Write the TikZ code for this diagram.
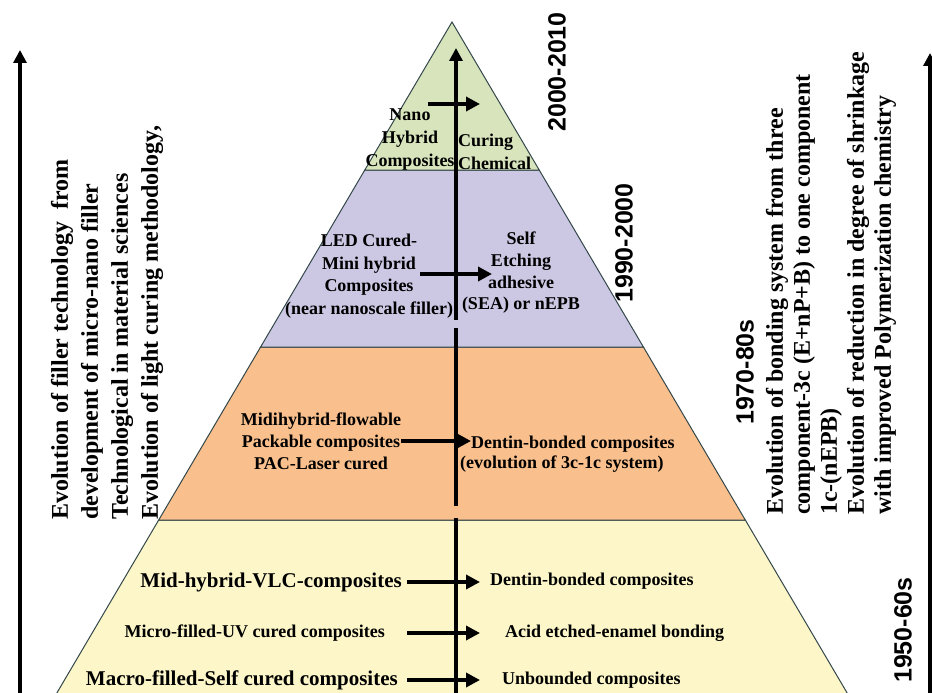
\documentclass[tikz,border=0pt]{standalone}
\usepackage{fontspec}
\setmainfont{Liberation Serif}
\newfontfamily\erafont{Liberation Sans}
\usepackage{xcolor}
\usepackage{tikz}
\usetikzlibrary{positioning,arrows.meta,calc}
\definecolor{nanogreen}{HTML}{D7E4BC}
\definecolor{ledviolet}{HTML}{CCC8E4}
\definecolor{midorange}{HTML}{F9BF8C}
\definecolor{macroyellow}{HTML}{FCF6C8}
\definecolor{rim}{HTML}{34474A}
\tikzset{
  band/.style={draw=rim, line width=1pt},
  lbl/.style={font=\bfseries\fontsize{18}{22}\selectfont, inner sep=0pt, align=center},
  lblbig/.style={lbl, font=\bfseries\fontsize{21}{22}\selectfont},
  side/.style={rotate=90, anchor=west, align=left, inner sep=0pt},
  era/.style={rotate=90, inner sep=0pt, font=\erafont\bfseries\fontsize{25}{25}\selectfont},
  mainarrow/.style={line width=4.5pt, -{Triangle[length=13pt,width=13pt]}},
  harrow/.style={line width=4pt, -{Triangle[length=14pt,width=14pt]}}
}

\begin{document}
\begin{tikzpicture}[x=1pt,y=-1pt]
\useasboundingbox (0,0) rectangle (932,693);
\fill[white] (0,0) rectangle (932,693);

\draw[band,fill=macroyellow] (158.7,520) -- (745.3,520) -- (850.1,698) -- (53.9,698) -- cycle;
\draw[band,fill=midorange] (260.6,347) -- (643.4,347) -- (745.3,520) -- (158.7,520) -- cycle;
\draw[band,fill=ledviolet] (364.8,170) -- (539.2,170) -- (643.4,347) -- (260.6,347) -- cycle;
\draw[band,fill=nanogreen] (452,22) -- (539.2,170) -- (364.8,170) -- cycle;

\coordinate (base) at (456,700);
\coordinate (cut1) at (456,518);
\coordinate (cut2) at (456,506);
\coordinate (cut3) at (456,328);
\coordinate (cut4) at (456,320);
\coordinate (apex) at (456,48);
\draw[line width=4.5pt] (base) -- (cut1);
\draw[line width=4.5pt] (cut2) -- (cut3);
\draw[mainarrow] (cut4) -- (apex);

\coordinate (lbase) at (20,700);
\coordinate (ltop) at (20,50);
\draw[mainarrow] (lbase) -- (ltop);
\coordinate (rbase) at (930,700);
\coordinate (rtop) at (930,53);
\draw[mainarrow] (rbase) -- (rtop);

% top band
\node[lbl, font=\bfseries\fontsize{18}{23}\selectfont] (nano) at (410,140) {Nano\\Hybrid\\Composites};
\node[lbl, font=\bfseries\fontsize{18}{23}\selectfont, align=left, anchor=west] (chem) at (458,151.5) {Curing\\Chemical};
\coordinate (gax) at (456,104);
\draw[harrow] ([xshift=-28pt]gax) -- ([xshift=24pt]gax);

% second band
\node[lbl, font=\bfseries\fontsize{18}{22.5}\selectfont] (led) at (369,276) {LED Cured-\\Mini hybrid\\Composites\\(near nanoscale filler)};
\node[lbl, font=\bfseries\fontsize{18}{21.7}\selectfont] (sea) at (521,273) {Self\\Etching\\adhesive\\(SEA) or nEPB};
\coordinate (pax) at (456,274);
\draw[harrow] ([xshift=-36pt]pax) -- ([xshift=36pt]pax);

% third band
\node[lbl] (midi) at (321,441) {Midihybrid-flowable\\Packable composites\\PAC-Laser cured};
\node[lbl, anchor=west] (dbc) at (471,444) {Dentin-bonded composites};
\node[lbl, anchor=west] (evo) at (460,464) {(evolution of 3c-1c system)};
\draw[harrow] (midi.east) -- (midi.east -| dbc.west);

% bottom band
\node[lblbig, anchor=east] (vlc) at (402,582) {Mid-hybrid-VLC-composites};
\node[lbl, anchor=west] (dent) at (490,581) {Dentin-bonded composites};
\draw[harrow, shorten <=5pt, shorten >=10pt] (vlc.east) -- (vlc.east -| dent.west);
\node[lbl, anchor=east] (uvc) at (385,633) {Micro-filled-UV cured composites};
\node[lbl, anchor=west] (acid) at (505,633) {Acid etched-enamel bonding};
\draw[harrow, shorten <=22pt, shorten >=25pt] (uvc.east) -- (uvc.east -| acid.west);
\node[lblbig, anchor=east] (self) at (398,680) {Macro-filled-Self cured composites};
\node[lbl, anchor=west] (unb) at (502,680) {Unbounded composites};
\draw[harrow, shorten <=9pt, shorten >=22pt] (self.east) -- (self.east -| unb.west);

\node[side, font=\bfseries\fontsize{24}{30}\selectfont] (filler) at (107,520)
  {Evolution of filler technology\ \ from\\development of micro-nano filler\\Technological in material sciences\\Evolution of light curing methodology,};
\node[side, font=\bfseries\fontsize{24}{27}\selectfont] (bonding) at (831,515)
  {Evolution of bonding system from three\\component-3c (E+nP+B) to one component\\1c-(nEPB)\\Evolution of reduction in degree of shrinkage\\with improved Polymerization chemistry};

\node[era] (e2000) at (557,72) {2000-2010};
\node[era] (e1990) at (624,243) {1990-2000};
\node[era] (e1970) at (745,372) {1970-80s};
\node[era] (e1950) at (903,630) {1950-60s};
\end{tikzpicture}
\end{document}
